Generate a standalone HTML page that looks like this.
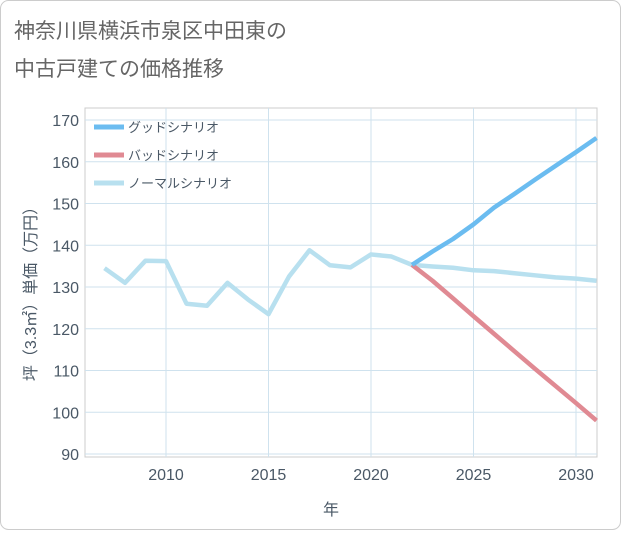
<!DOCTYPE html>
<html><head><meta charset="utf-8"><style>
body{margin:0;background:#fff;}
#c{position:relative;width:621px;height:530px;font-family:"Liberation Sans","Noto Sans CJK JP",sans-serif;}
</style></head><body>
<div id="c">
<svg id="s" width="621" height="530">
<rect x="0.5" y="0.5" width="620" height="529" rx="8" fill="#fff" stroke="#ccc"/>
<text x="14" y="38" font-size="21" fill="#666">神奈川県横浜市泉区中田東の</text>
<text x="14" y="76" font-size="21" fill="#666">中古戸建ての価格推移</text>
<g id="grid"></g><g id="axes"></g><g id="lines"></g><g id="legend"></g>
<text x="331" y="515" font-size="16" fill="#4a5866" text-anchor="middle">年</text>
<text transform="translate(36,290) rotate(-90)" font-size="16" fill="#4a5866" text-anchor="middle">坪（3.3㎡）単価（万円）</text>
</svg></div>
<script>
const years=[2007,2008,2009,2010,2011,2012,2013,2014,2015,2016,2017,2018,2019,2020,2021,2022,2023,2024,2025,2026,2027,2028,2029,2030,2031];
const normal=[134.5,131,136.3,136.2,126,125.5,131,127,123.5,132.5,138.8,135.2,134.7,137.8,137.3,135.3,134.9,134.6,134,133.8,133.3,132.8,132.3,132,131.5];
const goodYears=[2022,2023,2024,2025,2026,2027,2028,2029,2030,2031];
const good=[135.3,138.5,141.5,145,149,152.3,155.7,159,162.3,165.7];
const bad=[135.3,131.5,127.3,123,118.8,114.6,110.4,106.3,102.2,98];
const yTicks=[90,100,110,120,130,140,150,160,170];
const xTicks=[2010,2015,2020,2025,2030];
const legendLabels=["グッドシナリオ","バッドシナリオ","ノーマルシナリオ"];
const colors=["#6bbcf0","#e08a93","#b8e0ef"];
const L=85,R=597,T=108,B=457;
const xs=y=>166+(y-2010)*20.5;
const ys=v=>454-(v-90)*4.175;
const NS="http://www.w3.org/2000/svg";
function mk(t,a,p){const e=document.createElementNS(NS,t);for(const k in a)e.setAttribute(k,a[k]);p.appendChild(e);return e;}
const g=document.getElementById('grid'),ax=document.getElementById('axes'),ln=document.getElementById('lines'),lg=document.getElementById('legend');
mk('rect',{x:L,y:T,width:R-L,height:B-T,fill:'none',stroke:'#ccc'},g);
yTicks.forEach(v=>{const l=mk('line',{x1:L,x2:R,y1:ys(v),y2:ys(v),stroke:'#cfe2ee'},g);

const t=mk('text',{x:L-6,y:ys(v)+6,'font-size':16,fill:'#4a5866','text-anchor':'end'},ax);t.textContent=v;
});
xTicks.forEach(v=>{const l=mk('line',{x1:xs(v),x2:xs(v),y1:T,y2:B,stroke:'#cfe2ee'},g);

const t=mk('text',{x:xs(v),y:B+23,'font-size':16,fill:'#4a5866','text-anchor':'middle'},ax);t.textContent=v;
});
function path(xa,va,c,n){const p=mk('polyline',{points:xa.map((y,i)=>xs(y)+','+ys(va[i])).join(' '),fill:'none',stroke:c,'stroke-width':4.5,'stroke-linejoin':'round'},ln);
}
path(years,normal,colors[2],'normal-scenario-line');
path(goodYears,bad,colors[1],'bad-scenario-line');
path(goodYears,good,colors[0],'good-scenario-line');
legendLabels.forEach((s,i)=>{const y=127+i*28;
const l=mk('line',{x1:94,x2:124,y1:y,y2:y,stroke:colors[i],'stroke-width':5},lg);

const t=mk('text',{x:128,y:y+5,'font-size':13,fill:'#4a5866'},lg);t.textContent=s;
});
</script>
</body></html>
